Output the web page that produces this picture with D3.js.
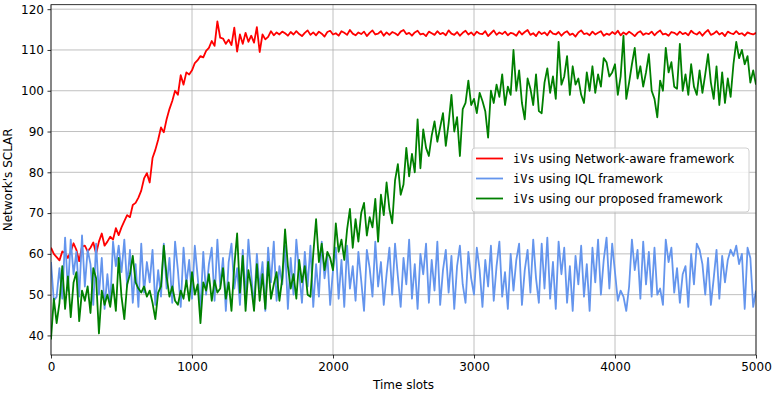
<!DOCTYPE html>
<html>
<head>
<meta charset="utf-8">
<script src="https://cdn.jsdelivr.net/npm/d3@7"></script>
<style>
  body { margin: 0; background: #fff; }
  text { font-family: "DejaVu Sans", sans-serif; }
</style>
</head>
<body>
<svg id="chart" width="776" height="393"></svg>
<script>
var networkAware = [
  61.5,60.0,59.2,58.4,60.6,60.2,59.0,60.5,62.6,61.0,
  58.2,61.8,62.0,60.6,61.5,62.8,60.0,63.0,65.0,62.0,
  63.0,64.2,63.5,66.3,64.6,66.5,68.0,69.5,69.0,72.0,
  72.5,73.8,75.5,78.5,79.8,77.5,83.5,85.5,88.0,91.0,
  89.8,93.0,95.5,97.5,100.0,99.0,103.8,101.5,104.5,104.0,
  105.0,106.8,107.5,108.5,108.2,109.8,110.5,112.2,111.0,117.0,
  113.0,112.8,111.5,112.5,111.2,115.5,109.6,113.8,111.5,114.2,
  112.0,113.5,111.8,115.6,109.5,113.8,112.6,113.2,114.6,113.6,
  114.3,113.8,114.5,
  114.1,113.5,114.4,113.8,114.6,113.9,113.4,114.2,114.8,113.7,114.3,113.6,114.5,114.0,113.3,114.4,114.7,113.8,114.1,113.5,
  114.6,114.2,113.7,114.9,114.0,113.6,114.3,113.9,114.5,113.4,114.2,114.8,113.8,114.0,114.6,113.5,114.3,113.7,114.4,114.1,
  113.6,114.5,114.9,113.9,114.2,113.5,114.3,114.7,113.8,114.0,113.4,114.5,114.1,113.7,114.6,113.9,114.2,113.6,114.8,114.0,
  113.7,114.4,113.5,114.2,114.7,113.8,114.3,113.6,114.5,114.0,113.9,114.6,113.4,114.1,114.8,113.7,114.3,113.9,114.5,113.6,
  114.2,114.0,113.5,114.6,113.8,114.4,114.9,113.7,114.1,113.4,114.5,113.9,114.3,113.6,114.7,114.0,113.8,114.4,113.5,114.2,
  114.6,113.7,114.0,113.3,114.3,114.8,113.9,114.1,113.6,114.5,113.8,114.2,114.6,113.5,114.0,113.7,114.4,113.9,114.7,113.6,
  114.3,113.8,114.5,114.0,113.4,114.2,114.6,113.7,114.1,113.9,114.5,113.6,114.3,114.8,113.8,114.0,113.5,114.4,114.2,113.7,
  114.5,113.9,114.2,113.6,114.7,114.1,113.8,114.4,113.5,114.3,114.9,113.7,114.0,114.6,113.8,114.2,113.4,114.5,114.1,113.9,
  114.6,113.9,114.1,113.5,114.3,114.0,113.8,114.2
];

var iql = [
  58.0,48.5,49.5,56.5,49.0,64.0,51.0,63.5,55.0,60.5,
  49.5,64.5,52.0,61.0,57.5,47.5,62.5,50.0,59.0,46.5,
  55.0,47.5,63.0,57.0,62.0,55.5,63.5,52.0,61.0,48.0,
  57.5,47.0,62.5,50.5,58.0,53.0,61.0,47.5,56.0,49.5,
  62.5,51.5,59.0,48.0,63.0,56.0,47.0,61.5,52.5,58.5,
  49.0,62.0,54.5,46.5,60.5,50.0,57.5,61.5,48.5,63.5,
  52.0,59.0,46.0,58.0,62.5,51.5,56.5,47.5,61.0,49.0,
  63.5,55.0,47.0,60.0,51.5,58.0,46.0,61.5,53.0,63.0,
  48.5,57.0,52.5,62.0,46.5,59.0,50.0,63.5,55.5,48.0,
  60.5,52.0,62.0,47.0,57.5,49.5,63.0,54.0,59.5,47.5,
  56.0,61.5,49.0,58.5,47.0,62.0,51.5,57.0,48.5,60.5,
  53.5,46.0,61.0,56.5,49.5,63.0,52.0,58.0,47.5,55.0,
  61.5,50.0,62.5,54.5,47.0,59.0,52.5,63.5,49.0,57.5,
  46.5,60.0,55.0,62.5,48.0,58.5,51.0,63.0,47.5,56.0,
  61.0,50.5,59.5,46.5,57.0,62.0,52.5,48.0,60.5,54.0,
  50.0,61.5,56.0,47.0,58.5,52.0,62.0,48.5,57.0,63.0,
  49.5,55.5,46.5,60.0,51.0,58.5,62.5,47.5,56.0,61.0,
  50.5,63.5,54.0,48.0,62.5,51.5,64.0,49.0,58.0,46.5,
  63.0,55.0,61.5,48.0,57.0,46.0,59.5,52.5,62.0,49.5,
  57.5,46.0,61.5,53.0,63.5,50.0,58.5,64.0,51.5,62.5,
  55.5,48.5,51.0,49.5,46.0,52.0,63.5,56.0,61.0,49.0,
  63.0,52.5,60.5,49.5,61.5,50.0,51.5,47.5,63.5,58.0,
  61.5,50.5,56.5,48.0,55.0,57.0,47.0,60.0,52.5,62.5,
  61.0,57.5,50.0,59.0,47.5,54.0,61.0,49.0,59.5,53.0,
  58.5,61.0,59.5,62.0,57.5,60.0,46.5,61.5,59.0,47.0,
  51.0
];

var proposed = [
  39.0,49.0,43.0,48.0,57.0,46.5,54.5,44.5,53.0,55.5,
  43.5,51.0,48.5,52.0,45.5,56.5,54.0,40.5,51.0,47.5,
  50.0,47.0,52.5,46.0,59.0,49.5,44.0,52.5,55.0,59.5,
  53.0,51.5,50.5,52.0,49.5,51.0,48.0,44.0,50.5,52.0,
  62.0,54.5,49.5,52.0,48.5,47.5,51.0,49.0,53.5,48.5,
  55.5,50.0,52.5,43.0,53.0,51.0,55.0,48.5,53.5,50.5,
  51.5,56.5,49.0,53.0,46.0,57.0,65.0,50.5,59.5,46.0,
  56.0,52.0,46.0,57.5,48.5,55.0,46.5,58.0,49.0,52.5,
  55.5,48.5,54.0,66.0,57.0,51.5,55.0,49.0,58.5,53.0,
  57.0,50.0,49.5,60.0,68.5,58.0,62.5,56.0,60.5,59.0,
  56.0,67.5,60.5,63.5,58.5,66.0,71.0,61.5,68.5,63.0,
  70.0,72.5,64.5,69.0,66.5,73.5,63.0,74.5,69.5,77.5,
  71.0,67.5,78.0,82.0,74.5,77.0,86.0,79.0,84.5,80.0,
  93.0,81.0,90.5,86.0,84.0,89.0,92.5,87.5,91.0,94.5,
  86.5,92.0,99.0,90.0,93.5,84.0,95.5,97.0,102.5,96.5,
  98.0,94.5,99.5,97.5,95.0,88.5,100.0,97.0,101.5,98.5,
  104.0,96.5,101.0,99.0,110.0,100.0,105.0,97.0,93.0,103.0,
  100.5,96.5,104.0,95.0,94.5,102.0,105.5,99.5,103.5,98.0,
  112.0,101.5,103.5,108.5,99.0,106.0,101.5,103.0,99.0,97.0,
  104.5,100.0,106.0,99.5,104.0,101.0,108.0,107.0,103.5,104.5,
  106.5,99.0,103.5,113.5,98.0,102.0,106.5,110.5,103.0,106.0,
  101.0,104.5,109.0,100.0,98.0,93.5,102.5,100.0,110.5,104.5,
  107.0,101.0,100.5,111.5,100.0,104.0,99.0,106.5,101.0,99.0,
  105.0,99.5,104.0,109.0,102.0,98.0,106.0,96.5,104.5,97.0,
  103.0,98.5,106.5,112.0,108.0,110.0,106.5,108.5,102.0,105.0,
  101.5
];

var xTicks = [0, 1000, 2000, 3000, 4000, 5000];
var yTicks = [40, 50, 60, 70, 80, 90, 100, 110, 120];
var seriesNames = ["Network-aware framework", "IQL framework", "our proposed framework"];
var seriesColors = ["red", "cornflowerblue", "green"];

var svg = d3.select("#chart");
var margin = {top: 4.7, right: 20, bottom: 38, left: 51},
    width = 776 - margin.left - margin.right,
    height = 393 - margin.top - margin.bottom;

var x = d3.scaleLinear().domain([0, 5000]).range([0, width]);
var y = d3.scaleLinear().domain([35.2, 121.1]).range([height, 0]);

var g = svg.append("g")
    .attr("transform", "translate(" + margin.left + "," + margin.top + ")");

// grid
g.append("g")
    .selectAll("line.vg").data(xTicks).enter().append("line")
    .attr("x1", function(d) { return x(d); }).attr("x2", function(d) { return x(d); })
    .attr("y1", 0).attr("y2", height)
    .attr("stroke", "#b0b0b0").attr("stroke-width", 0.8);
g.append("g")
    .selectAll("line.hg").data(yTicks).enter().append("line")
    .attr("y1", function(d) { return y(d); }).attr("y2", function(d) { return y(d); })
    .attr("x1", 0).attr("x2", width)
    .attr("stroke", "#b0b0b0").attr("stroke-width", 0.8);

// lines
var all = [networkAware, iql, proposed];
var line = d3.line()
    .x(function(d, i, arr) { return x(i * 5000 / (arr.length - 1)); })
    .y(function(d) { return y(d); });

g.append("clipPath").attr("id", "clip")
  .append("rect").attr("width", width).attr("height", height);

all.forEach(function(vals, k) {
  g.append("path")
      .datum(vals)
      .attr("clip-path", "url(#clip)")
      .attr("fill", "none")
      .attr("stroke", seriesColors[k])
      .attr("stroke-width", 1.8)
      .attr("stroke-linejoin", "round")
      .attr("d", line);
});

// axes
var xAxis = g.append("g")
    .attr("transform", "translate(0," + height + ")")
    .call(d3.axisBottom(x).tickValues(xTicks).tickFormat(d3.format("d")).tickSizeOuter(0).tickSize(3.5).tickPadding(3.5));
var yAxis = g.append("g")
    .call(d3.axisLeft(y).tickValues(yTicks).tickSizeOuter(0).tickSize(3.5).tickPadding(3.5));
[xAxis, yAxis].forEach(function(a) {
  a.select(".domain").remove();
  a.selectAll("text").attr("font-size", 12).attr("fill", "#000").style("font-family", "DejaVu Sans");
  a.selectAll("line").attr("stroke", "#000").attr("stroke-width", 0.8);
});

// frame
g.append("rect")
    .attr("width", width).attr("height", height)
    .attr("fill", "none").attr("stroke", "#000").attr("stroke-width", 0.8);

// labels
svg.append("text")
    .attr("x", margin.left + width / 2).attr("y", 389)
    .attr("text-anchor", "middle").attr("font-size", 12)
    .text("Time slots");
svg.append("text")
    .attr("transform", "translate(12," + (margin.top + height / 2) + ") rotate(-90)")
    .attr("text-anchor", "middle").attr("font-size", 12)
    .text("Network's SCLAR");

// legend
var lg = svg.append("g").attr("transform", "translate(472,148)");
lg.append("rect")
    .attr("width", 277).attr("height", 64).attr("rx", 3)
    .attr("fill", "#fff").attr("fill-opacity", 0.8)
    .attr("stroke", "#d0d0d0").attr("stroke-width", 1);
seriesNames.forEach(function(name, k) {
  var row = lg.append("g").attr("transform", "translate(0," + (10.5 + k * 20) + ")");
  row.append("line")
      .attr("x1", 4).attr("x2", 31)
      .attr("stroke", seriesColors[k]).attr("stroke-width", 1.8);
  var t = row.append("text").attr("x", 41).attr("y", 4.3).attr("font-size", 12);
  t.append("tspan").style("font-family", "DejaVu Sans Mono").text("iVs");
  t.append("tspan").text(" using " + name);
});
</script>
</body>
</html>
